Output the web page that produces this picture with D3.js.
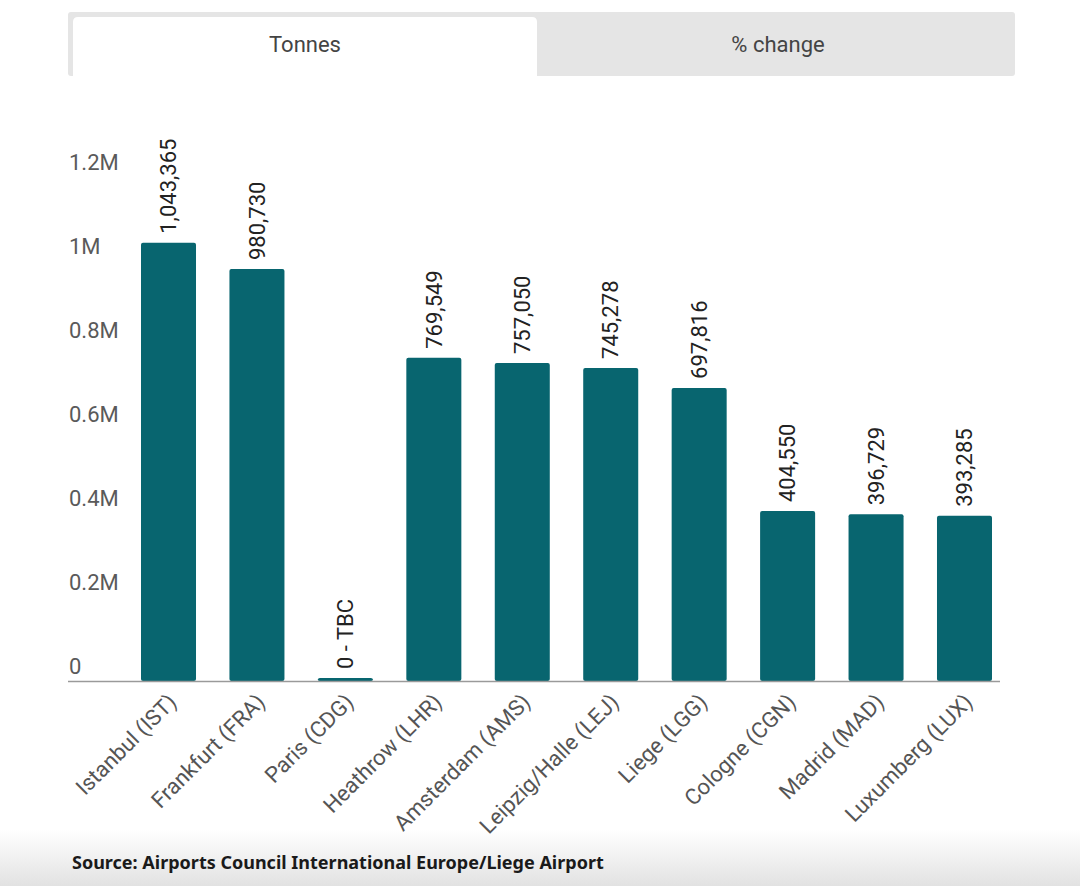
<!DOCTYPE html>
<html>
<head>
<meta charset="utf-8">
<script src="https://cdn.jsdelivr.net/npm/d3@7"></script>
<style>
  html, body { margin: 0; padding: 0; background: #fff; }
  svg { display: block; font-family: Roboto, "Liberation Sans", sans-serif; }
</style>
</head>
<body>
<div id="chart"></div>
<script>
var airports = ["Istanbul (IST)", "Frankfurt (FRA)", "Paris (CDG)", "Heathrow (LHR)", "Amsterdam (AMS)",
                "Leipzig/Halle (LEJ)", "Liege (LGG)", "Cologne (CGN)", "Madrid (MAD)", "Luxumberg (LUX)"];
var tonnes = [1043365, 980730, 0, 769549, 757050, 745278, 697816, 404550, 396729, 393285];
var yTicks = [0, 200000, 400000, 600000, 800000, 1000000, 1200000];
var yTickLabels = ["0", "0.2M", "0.4M", "0.6M", "0.8M", "1M", "1.2M"];
var tabs = ["Tonnes", "% change"];
var source = "Source: Airports Council International Europe/Liege Airport";

var width = 1080, height = 886;
var barColor = "#08656f";

var svg = d3.select("#chart").append("svg")
    .attr("width", width)
    .attr("height", height);

// bottom fade
var defs = svg.append("defs");
var grad = defs.append("linearGradient")
    .attr("id", "fade")
    .attr("x1", 0).attr("y1", 0).attr("x2", 0).attr("y2", 1);
grad.append("stop").attr("offset", "0%").attr("stop-color", "#ffffff");
grad.append("stop").attr("offset", "100%").attr("stop-color", "#e2e2e2");
svg.append("rect")
    .attr("x", 0).attr("y", 830)
    .attr("width", width).attr("height", height - 830)
    .attr("fill", "url(#fade)");

//
// Tabs
//
svg.append("rect")
    .attr("x", 68).attr("y", 12)
    .attr("width", 947).attr("height", 64)
    .attr("rx", 3)
    .attr("fill", "#e5e5e5");

svg.append("path")
    .attr("d", "M73,76 V22 Q73,17 78,17 H532 Q537,17 537,22 V76 Z")
    .attr("fill", "#ffffff");

svg.selectAll(".tab")
    .data(tabs)
    .enter().append("text")
    .attr("class", "tab")
    .attr("x", function(d, i) { return i == 0 ? 305 : 778; })
    .attr("y", 52)
    .attr("text-anchor", "middle")
    .attr("fill", "#444")
    .style("font-size", "22px")
    .text(function(d) { return d; });

//
// Scales
//
var x = d3.scaleBand()
    .domain(airports)
    .range([141, 992])
    .paddingInner(0.378)
    .paddingOuter(0);

var y = d3.scaleLinear()
    .domain([0, 1200000])
    .range([681, 177]);

// y axis labels (sit above their line)
var yAxis = svg.append("g")
    .attr("transform", "translate(69,0)")
    .call(d3.axisRight(y)
          .tickValues(yTicks)
          .tickSize(0)
          .tickPadding(0)
          .tickFormat(function(d, i) { return yTickLabels[i]; }));
yAxis.select(".domain").remove();
yAxis.selectAll("text")
    .attr("dy", null)
    .attr("y", -8)
    .attr("fill", "#5a5a5a")
    .style("font-family", "Roboto, sans-serif")
    .style("font-size", "22px");

// bars
svg.selectAll(".bar")
    .data(tonnes)
    .enter().append("rect")
    .attr("class", "bar")
    .attr("x", function(d, i) { return x(airports[i]); })
    .attr("width", x.bandwidth())
    .attr("y", function(d) { return Math.min(y(d), y(0) - 3); })
    .attr("height", function(d) { return Math.max(y(0) - y(d), 3); })
    .attr("rx", 2)
    .attr("fill", barColor);

// baseline
svg.append("line")
    .attr("x1", 68).attr("x2", 1000)
    .attr("y1", y(0) + 0.5).attr("y2", y(0) + 0.5)
    .attr("stroke", "#9a9a9a")
    .attr("stroke-width", 1.5);

// value labels
var fmt = d3.format(",");
svg.selectAll(".val")
    .data(tonnes)
    .enter().append("text")
    .attr("class", "val")
    .attr("transform", function(d, i) {
        var top = Math.min(y(d), y(0) - 3);
        return "translate(" + (x(airports[i]) + x.bandwidth() / 2) + "," + (top - 9) + ") rotate(-90)";
    })
    .attr("dy", "0.35em")
    .attr("text-anchor", "start")
    .attr("fill", "#222")
    .style("font-size", "22px")
    .text(function(d) { return d === 0 ? "0 - TBC" : fmt(d); });

// category labels
svg.selectAll(".cat")
    .data(airports)
    .enter().append("text")
    .attr("class", "cat")
    .attr("transform", function(d) {
        return "translate(" + (x(d) + x.bandwidth() / 2 + 4) + ",698) rotate(-45)";
    })
    .attr("dy", "0.35em")
    .attr("text-anchor", "end")
    .attr("fill", "#555")
    .style("font-size", "22px")
    .text(function(d) { return d; });

// source
svg.append("text")
    .attr("x", 72)
    .attr("y", 869)
    .attr("fill", "#1a1a1a")
    .style("font-family", "'Noto Sans', 'Open Sans', sans-serif")
    .style("font-weight", "bold")
    .style("font-size", "18px")
    .text(source);
</script>
</body>
</html>
